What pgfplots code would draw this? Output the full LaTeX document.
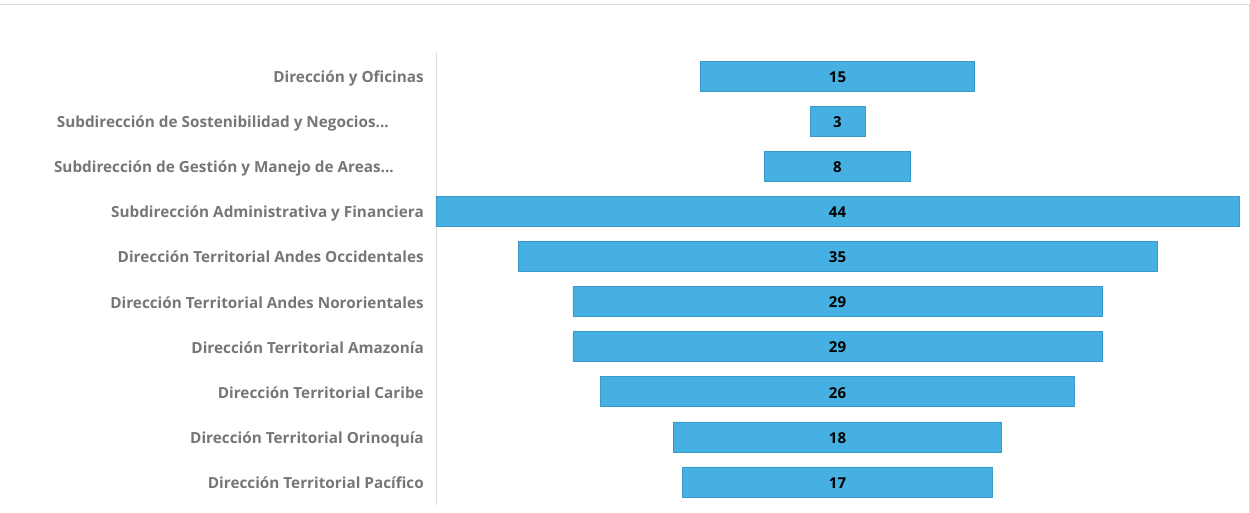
\documentclass[border=0pt]{standalone}
\usepackage{fontspec}
\setmainfont{Open Sans}
\usepackage{pgfplots}
\pgfplotsset{compat=1.18}
\usepackage{pgfplotstable}
\usetikzlibrary{calc}
\definecolor{barfill}{HTML}{45B0E1}
\definecolor{barline}{HTML}{3A9ACB}
\definecolor{lblgray}{HTML}{767676}
\definecolor{framegray}{HTML}{DDDDDD}
\newcommand{\threedots}{.{}.{}.}
\pgfplotstableread{
idx v
0 15
1 3
2 8
3 44
4 35
5 29
6 29
7 26
8 18
9 17
}\funneldata
\begin{document}
\begin{tikzpicture}
\begin{axis}[
  name=ax,
  scale only axis,
  width=803pt, height=451pt,
  xmin=0, xmax=44,
  ymin=-0.5, ymax=9.5,
  y dir=reverse,
  xbar stacked,
  bar width=30pt,
  axis x line=none,
  axis y line*=left,
  y axis line style={draw=framegray, line width=0.8pt},
  ytick={0,1,2,3,4,5,6,7,8,9},
  yticklabels={
    {Dirección y Oficinas},
    {Subdirección de Sostenibilidad y Negocios\threedots\hspace*{35pt}},
    {Subdirección de Gestión y Manejo de Areas\threedots\hspace*{30pt}},
    {Subdirección Administrativa y Financiera},
    {Dirección Territorial Andes Occidentales},
    {Dirección Territorial Andes Nororientales},
    {Dirección Territorial Amazonía},
    {Dirección Territorial Caribe},
    {Dirección Territorial Orinoquía},
    {Dirección Territorial Pacífico}},
  major tick length=0pt,
  yticklabel style={font=\fontsize{15.3}{18}\selectfont\bfseries, text=lblgray, anchor=base east, inner sep=0pt, xshift=-12pt, yshift=-6.5pt},
  clip=false,
]
\addplot[draw=none, fill=none] table[x expr=(44-\thisrow{v})/2, y=idx] {\funneldata};
\addplot[fill=barfill, draw=barline, line width=0.6pt] table[x=v, y=idx] {\funneldata};
\end{axis}
\begin{axis}[
  at={(ax.south west)}, anchor=south west,
  scale only axis,
  width=803pt, height=451pt,
  xmin=0, xmax=44,
  ymin=-0.5, ymax=9.5,
  y dir=reverse,
  hide axis,
  clip=false,
  /pgf/number format/assume math mode=true,
]
\addplot[draw=none, mark=none, nodes near coords, point meta=explicit,
  every node near coord/.style={anchor=base, yshift=-6.3pt, inner sep=0pt, font=\fontsize{15}{18}\selectfont\bfseries, text=black}]
  table[x expr=22, y=idx, meta=v] {\funneldata};
\end{axis}
\draw[framegray, line width=0.8pt] ($(ax.north west)+(-436pt,49.5pt)$) -- ($(ax.north east)+(10pt,49.5pt)$) -- ($(ax.south east)+(10pt,-7.5pt)$);
\pgfresetboundingbox
\useasboundingbox ($(ax.south west)+(-436pt,-7.5pt)$) rectangle ($(ax.north east)+(11pt,53.5pt)$);
\end{tikzpicture}
\end{document}
